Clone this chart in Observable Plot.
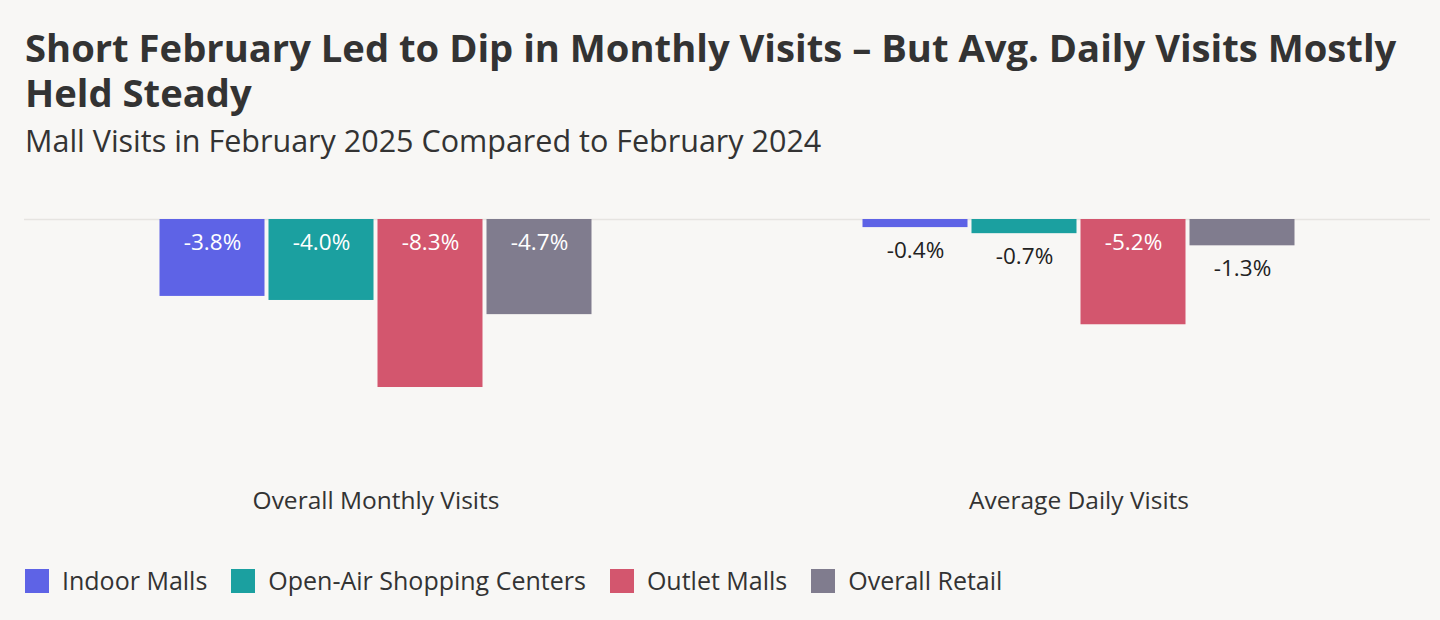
<!DOCTYPE html>
<html>
<head>
<meta charset="utf-8">
<script src="https://cdn.jsdelivr.net/npm/d3@7"></script>
<script src="https://cdn.jsdelivr.net/npm/@observablehq/plot@0.6"></script>
<style>
  html, body { margin: 0; padding: 0; background: #f8f7f5; }
  body { width: 1440px; height: 620px; overflow: hidden; font-family: "Open Sans", sans-serif; color: #333; }
  .head { padding: 0 25px; }
  h1 { margin: 25px 0 0 0; font-size: 38.2px; line-height: 45px; font-weight: 700; color: #333; }
  .sub { margin: 7px 0 0 0; font-size: 30.5px; line-height: 37px; font-weight: 400; color: #333; }
  #chart { margin-top: 11px; height: 360px; }
  .legend { display: flex; align-items: center; padding: 0 25px; margin-top: 38px; font-size: 25px; line-height: 25px; color: #333; }
  .item { display: flex; align-items: center; margin-right: 24px; }
  .sw { width: 24px; height: 24px; margin-right: 13px; }
</style>
</head>
<body>
<div class="head">
  <h1>Short February Led to Dip in Monthly Visits – But Avg. Daily Visits Mostly<br>Held Steady</h1>
  <div class="sub">Mall Visits in February 2025 Compared to February 2024</div>
</div>
<div id="chart"></div>
<div class="legend" id="legend"></div>
<script>
const groups = ["Overall Monthly Visits", "Average Daily Visits"];
const series = ["Indoor Malls", "Open-Air Shopping Centers", "Outlet Malls", "Overall Retail"];
const monthlyValues = [-3.8, -4.0, -8.3, -4.7];
const dailyValues = [-0.4, -0.7, -5.2, -1.3];
const colors = ["#5e63e6", "#1ba0a0", "#d3566e", "#807c8e"];

const data = [];
series.forEach((s, i) => data.push({group: groups[0], series: s, value: monthlyValues[i]}));
series.forEach((s, i) => data.push({group: groups[1], series: s, value: dailyValues[i]}));
const inside = d => d.value <= -3;

const chart = Plot.plot({
  width: 1440,
  height: 360,
  marginTop: 49,
  marginBottom: 60,
  marginLeft: 23.5,
  marginRight: 10.5,
  style: {background: "transparent", fontFamily: "Open Sans, sans-serif", overflow: "visible"},
  fx: {domain: groups, padding: 0, axis: null},
  x: {domain: series, paddingInner: 0.035, paddingOuter: 1.22, axis: null},
  y: {domain: [-12.4, 0], axis: null},
  color: {domain: series, range: colors},
  marks: [
    Plot.ruleY([0], {stroke: "#e6e4e1", strokeWidth: 1.5}),
    Plot.barY(data, {fx: "group", x: "series", y: "value", fill: "series"}),
    Plot.text(data, {
      fx: "group", x: "series",
      y: d => inside(d) ? 0 : d.value,
      text: d => d.value.toFixed(1) + "%",
      fill: d => inside(d) ? "#ffffff" : "#222222",
      dy: 23, lineAnchor: "middle", fontSize: 22.5
    }),
    Plot.text(groups, {
      fx: d => d, text: d => d,
      frameAnchor: "bottom", dy: 31, lineAnchor: "middle",
      fontSize: 24.5, fill: "#333"
    })
  ]
});
document.getElementById("chart").appendChild(chart);

const legend = document.getElementById("legend");
series.forEach((s, i) => {
  const item = document.createElement("div");
  item.className = "item";
  const sw = document.createElement("span");
  sw.className = "sw";
  sw.style.background = colors[i];
  const label = document.createElement("span");
  label.textContent = s;
  item.appendChild(sw);
  item.appendChild(label);
  legend.appendChild(item);
});
</script>
</body>
</html>
